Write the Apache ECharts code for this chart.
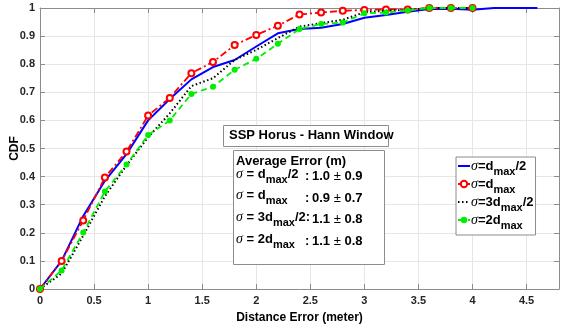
<!DOCTYPE html>
<html>
<head>
<meta charset="utf-8">
<script src="https://cdn.jsdelivr.net/npm/echarts@6/dist/echarts.min.js"></script>
<style>html,body{margin:0;padding:0;background:#fff}#c{width:561px;height:328px}</style>
</head>
<body>
<div id="c"></div>
<script>
// ---- data ----
const xBlue = [0,0.2,0.4,0.6,0.8,1.0,1.2,1.4,1.6,1.8,2.0,2.2,2.4,2.6,2.8,3.0,3.2,3.4,3.6,3.8,4.0,4.2,4.4,4.6];
const xOther = [0,0.2,0.4,0.6,0.8,1.0,1.2,1.4,1.6,1.8,2.0,2.2,2.4,2.6,2.8,3.0,3.2,3.4,3.6,3.8,4.0];
const cdfHalf = [0,0.10,0.26,0.385,0.48,0.60,0.676,0.746,0.79,0.815,0.863,0.91,0.925,0.93,0.943,0.965,0.975,0.987,0.996,0.997,0.994,1,1,1];
const cdfOne = [0,0.10,0.244,0.397,0.489,0.617,0.68,0.768,0.808,0.868,0.904,0.937,0.977,0.984,0.99,0.993,0.995,0.995,1,1,1];
const cdfThreeHalf = [0,0.055,0.19,0.33,0.44,0.54,0.625,0.722,0.75,0.815,0.851,0.893,0.934,0.946,0.958,0.985,0.99,0.993,1,1,1];
const cdfTwo = [0,0.066,0.201,0.347,0.443,0.548,0.60,0.694,0.72,0.78,0.819,0.873,0.925,0.943,0.948,0.981,0.984,0.991,1,1,1];
const seriesNames = ['s1','s2','s3','s4'];
const legendLabels = {
  s1: '{s|σ}{b|=d}{sub|max}{b|/2}',
  s2: '{s|σ}{b|=d}{sub|max}',
  s3: '{s|σ}{b|=3d}{sub|max}{b|/2}',
  s4: '{s|σ}{b|=2d}{sub|max}'
};
const statLeft = [
  '{s|σ}{b| = d}{sub|max}{b|/2}',
  '{s|σ}{b| = d}{sub|max}',
  '{s|σ}{b| = 3d}{sub|max}{b|/2:}',
  '{s|σ}{b| = 2d}{sub|max}'
];
const statMean = ['1.0','0.9','1.1','1.1'];
const statStd = ['0.9','0.7','0.8','0.8'];
const xTicks = [0,0.5,1,1.5,2,2.5,3,3.5,4,4.5];

const FONT = '"Liberation Sans", Arial, sans-serif';
const rich = {
  s: {fontFamily: '"Liberation Serif", "DejaVu Serif", serif', fontStyle: 'italic', fontSize: 14, color: '#000'},
  b: {fontFamily: FONT, fontWeight: 'bold', fontSize: 13, color: '#000'},
  sub: {fontFamily: FONT, fontWeight: 'bold', fontSize: 11, color: '#000', padding: [11,0,0,0]},
  n: {fontFamily: FONT, fontWeight: 'normal', fontSize: 13, color: '#000'}
};

function pairs(xs, ys){ return xs.map((x,i)=>[x, ys[i]]); }

const chart = echarts.init(document.getElementById('c'), null, {renderer:'canvas'});
const axisCommon = {
  type: 'value',
  axisLine: {show: true, onZero: false, lineStyle: {color: '#8c8c8c', width: 1}},
  axisTick: {show: true, inside: true, length: 5, lineStyle: {color: '#8c8c8c'}}
};
const statGraphics = [];
statLeft.forEach((t,i)=>{
  const y = 178 + i*21.7;
  statGraphics.push({type:'text', left: 236, top: y - 11, style:{text: t, rich: rich}});
  if (i !== 2) statGraphics.push({type:'text', left: 305, top: y - 8, style:{text: ':', font: 'bold 13px ' + FONT, fill:'#000'}});
  statGraphics.push({type:'text', left: 312, top: y - 8, style:{
    text: '{b|' + statMean[i] + ' }{n|±}{b| ' + statStd[i] + '}', rich: rich}});
});

chart.setOption({
  animation: false,
  backgroundColor: '#fff',
  grid: {left: 40, right: 2, top: 8, bottom: 39, show: false, containLabel: false, outerBoundsMode: 'none'},
  xAxis: [
    Object.assign({}, axisCommon, {
      min: 0, max: 4.8, interval: 0.5, position: 'bottom',
      name: 'Distance Error (meter)', nameLocation: 'middle', nameGap: 23, nameMoveOverlap: false,
      nameTextStyle: {fontFamily: FONT, fontWeight: 'bold', fontSize: 12, color: '#000'},
      axisLabel: {fontFamily: FONT, fontWeight: 'bold', fontSize: 11, color: '#262626', margin: 6,
        formatter: v => xTicks.some(t=>Math.abs(t-v)<1e-9) ? String(v) : ''},
      splitLine: {show: true, lineStyle: {color: '#e6e6e6', width: 1}}
    }),
    Object.assign({}, axisCommon, {
      min: 0, max: 4.8, interval: 0.5, position: 'top',
      axisLabel: {show: false}, splitLine: {show: false}
    })
  ],
  yAxis: [
    Object.assign({}, axisCommon, {
      min: 0, max: 1, interval: 0.1, position: 'left',
      name: 'CDF', nameLocation: 'middle', nameGap: 19, nameRotate: 90, nameMoveOverlap: false,
      nameTextStyle: {fontFamily: FONT, fontWeight: 'bold', fontSize: 12, color: '#000'},
      axisLabel: {fontFamily: FONT, fontWeight: 'bold', fontSize: 11, color: '#262626', margin: 5},
      splitLine: {show: true, lineStyle: {color: '#e6e6e6', width: 1}}
    }),
    Object.assign({}, axisCommon, {
      min: 0, max: 1, interval: 0.1, position: 'right',
      axisLabel: {show: false}, splitLine: {show: false}
    })
  ],
  legend: {
    orient: 'vertical', left: 456, top: 157,
    padding: [2, 2, 4, 1], itemGap: 0, itemWidth: 12, itemHeight: 8,
    backgroundColor: '#fff', borderColor: '#8c8c8c', borderWidth: 1,
    data: [
      {name: 's1', itemStyle: {opacity: 0}},
      {name: 's2'},
      {name: 's3', itemStyle: {opacity: 0}},
      {name: 's4'}
    ],
    formatter: n => legendLabels[n],
    textStyle: {rich: rich, padding: [0,0,0,-4]}
  },
  series: [
    {name: 's1', type: 'line', data: pairs(xBlue, cdfHalf), showSymbol: false, symbol: 'none',
      lineStyle: {color: '#0000ff', width: 2}, itemStyle: {color: '#0000ff'}, z: 2},
    {name: 's2', type: 'line', data: pairs(xOther, cdfOne), symbol: 'emptyCircle', symbolSize: 6,
      lineStyle: {color: '#ff0000', width: 1.8, type: [7,3,2,3]}, itemStyle: {color: '#ff0000', borderWidth: 1.5}, z: 3},
    {name: 's3', type: 'line', data: pairs(xOther, cdfThreeHalf), showSymbol: false, symbol: 'none',
      lineStyle: {color: '#000', width: 2, type: [1.5,2.5]}, itemStyle: {color: '#000'}, z: 4},
    {name: 's4', type: 'line', data: pairs(xOther, cdfTwo), symbol: 'circle', symbolSize: 6,
      lineStyle: {color: '#00ee00', width: 1.8, type: [6,4]}, itemStyle: {color: '#00ee00'}, z: 5}
  ],
  graphic: [
    {type: 'rect', left: 223, top: 125, z: 100, shape: {width: 165, height: 21},
      style: {fill: '#fff', stroke: '#8c8c8c', lineWidth: 1}},
    {type: 'text', left: 229, top: 129, z: 101, style: {text: 'SSP Horus - Hann Window', font: 'bold 13px ' + FONT, fill: '#000'}},
    {type: 'rect', left: 233, top: 150, z: 100, shape: {width: 151, height: 114},
      style: {fill: '#fff', stroke: '#8c8c8c', lineWidth: 1}},
    {type: 'text', left: 236, top: 155, z: 101, style: {text: 'Average Error (m)', font: 'bold 13px ' + FONT, fill: '#000'}}
  ].concat(statGraphics.map(g=>Object.assign({z: 101}, g)))
});
</script>
</body>
</html>
